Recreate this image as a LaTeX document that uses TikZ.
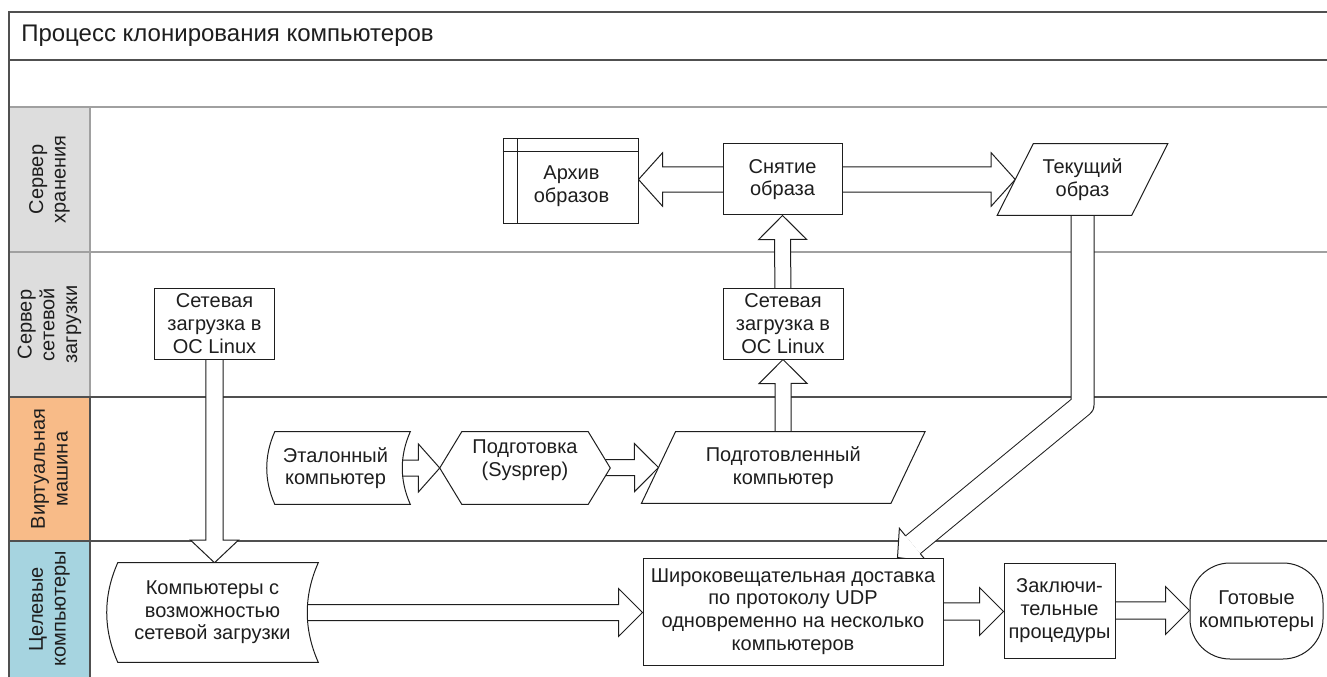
\documentclass[tikz,border=0pt]{standalone}
\usepackage{fontspec}
\setmainfont{Liberation Sans}
\usetikzlibrary{calc}
\pgfdeclarelayer{bg}
\pgfsetlayers{bg,main}
\definecolor{lanegray}{HTML}{DDDDDD}
\definecolor{laneorange}{HTML}{F8BB88}
\definecolor{laneblue}{HTML}{A6D4E0}
\definecolor{darkline}{HTML}{505050}
\definecolor{paleline}{HTML}{A0A0A0}
\definecolor{ink}{HTML}{1E1E1E}
\newcommand\px[1]{#1*0.75pt}
\tikzset{
  every node/.style={font=\fontsize{15}{17}\selectfont, text=ink},
  shapeline/.style={draw=ink, line width=0.75pt, fill=white},
  boxnode/.style={shapeline, inner sep=0pt, align=center},
  holder/.style={inner sep=0pt, align=center},
  arrowbody/.style={draw=ink, line width=0.75pt, fill=white, line join=miter},
  frameline/.style={draw=darkline, line width=1.1pt},
  paleframe/.style={draw=paleline, line width=1.1pt},
  headtext/.style={rotate=90, align=center, inner sep=0pt},
}
% block arrow: from #1 to tip #2, shaft half width #3, head half width #4, head length #5
\newcommand\blockarrow[5]{%
  \coordinate (bah) at ($(#2)!#5!(#1)$);
  \filldraw[arrowbody] ($(#1)!#3!90:(#2)$) -- ($(bah)!#3!-90:(#1)$) -- ($(bah)!#4!-90:(#1)$) -- (#2)
    -- ($(bah)!#4!90:(#1)$) -- ($(bah)!#3!90:(#1)$) -- ($(#1)!#3!-90:(#2)$);
}
% stored data outline on node #1, bulge #2 (px)
\newcommand\storedshape[2]{%
  \pgfmathsetmacro\sdk{4*#2/3}
  \filldraw[shapeline] ($(#1.north west)+(#2,0)$) -- (#1.north east)
    .. controls ($(#1.north east)!0.333!(#1.south east)+(-\sdk,0)$) and ($(#1.north east)!0.667!(#1.south east)+(-\sdk,0)$) .. (#1.south east)
    -- ($(#1.south west)+(#2,0)$)
    .. controls ($(#1.south west)!0.333!(#1.north west)+(#2-\sdk,0)$) and ($(#1.south west)!0.667!(#1.north west)+(#2-\sdk,0)$) .. cycle;
}
% parallelogram outline on node #1, half slant #2 (px)
\newcommand\paraoutline[2]{%
  \filldraw[shapeline] ($(#1.north west)+(#2,0)$) -- ($(#1.north east)+(#2,0)$) -- ($(#1.south east)+(-#2,0)$) -- ($(#1.south west)+(-#2,0)$) -- cycle;
}
\begin{document}
\begin{tikzpicture}[x=0.75pt,y=-0.75pt]
\useasboundingbox (0,0) rectangle (1327,677);

% ---------- nodes ----------
\node[anchor=west, inner sep=0pt, font=\fontsize{18}{21}\selectfont] (title) at (21,36) {Процесс клонирования компьютеров};

\node[headtext] (h1) at (49.5,179.5) {Сервер\\хранения};
\node[headtext] (h2) at (49.5,324.5) {Сервер\\сетевой\\загрузки};
\node[headtext] (h3) at (49.5,469) {Виртуальная\\машина};
\node[headtext] (h4) at (49.5,609) {Целевые\\компьютеры};

\node[boxnode, minimum width=\px{135}, minimum height=\px{85}] (arch) at (570.5,181.5) {};
\draw[draw=ink, line width=0.75pt] ($(arch.north west)+(15,0)$) -- ($(arch.south west)+(15,0)$);
\draw[draw=ink, line width=0.75pt] ($(arch.north west)+(0,13)$) -- ($(arch.north east)+(0,13)$);
\node[holder] (archt) at ($(arch.center)+(1,5)$) {Архив\\образов};

\node[boxnode, minimum width=\px{119}, minimum height=\px{71}] (snyat) at (782.5,179.5) {Снятие\\образа};

\node[holder, minimum width=\px{134}, minimum height=\px{71}] (tek) at (1082.5,179.5) {};
\paraoutline{tek}{18}
\node[holder] (tekt) at (tek.center) {Текущий\\образ};

\node[boxnode, minimum width=\px{120}, minimum height=\px{71}] (setl) at (214.5,323.5) {Сетевая\\загрузка в\\ОС Linux};
\node[boxnode, minimum width=\px{120}, minimum height=\px{71}] (setr) at (783,323.5) {Сетевая\\загрузка в\\ОС Linux};

\node[holder, minimum width=\px{143}, minimum height=\px{72}] (eth) at (338.5,468) {};
\storedshape{eth}{8}
\node[holder] (etht) at ($(eth.center)+(-3,0)$) {Эталонный\\компьютер};

\node[holder, minimum width=\px{170}, minimum height=\px{72}] (prep) at (525,468) {};
\filldraw[shapeline] (prep.west) -- ($(prep.north west)+(22,0)$) -- ($(prep.north east)+(-22,0)$) -- (prep.east)
  -- ($(prep.south east)+(-22,0)$) -- ($(prep.south west)+(22,0)$) -- cycle;
\node[holder] (prept) at ($(prep.center)+(0,-8)$) {Подготовка\\(Sysprep)};

\node[holder, minimum width=\px{249}, minimum height=\px{71}] (prepd) at (783.25,467.5) {};
\paraoutline{prepd}{17}
\node[holder] (prepdt) at (prepd.center) {Подготовленный\\компьютер};

\node[holder, minimum width=\px{211}, minimum height=\px{99}] (komp) at (212.5,612.5) {};
\storedshape{komp}{11}
\node[holder] (kompt) at (komp.center) {Компьютеры с\\возможностью\\сетевой загрузки};

\node[boxnode, minimum width=\px{300}, minimum height=\px{107}] (bcast) at (793,611.5)
  {Широковещательная доставка\\по протоколу UDP\\одновременно на несколько\\компьютеров};
\node[boxnode, minimum width=\px{111}, minimum height=\px{95}] (zakl) at (1059.5,610.5) {Заключи-\\тельные\\процедуры};
\node[boxnode, rounded corners=30pt, minimum width=\px{133}, minimum height=\px{96}] (got) at (1256.5,611) {Готовые\\компьютеры};

% ---------- background: lanes, lines, arrows ----------
\begin{pgfonlayer}{bg}
  \fill[white] (0,0) rectangle (1327,677);
  \fill[lanegray] (9,107) rectangle (90,397);
  \fill[laneorange] (9,397) rectangle (90,541);
  \fill[laneblue] (9,541) rectangle (90,677);
  \draw[paleframe] (9,107) -- (1327,107);
  \draw[paleframe] (9,252) -- (1327,252);
  \draw[paleframe] (90,107) -- (90,397);
  \draw[frameline] (90,397) -- (90,677);
  \draw[frameline] (9,397) -- (1327,397);
  \draw[frameline] (9,541) -- (1327,541);
  \draw[frameline] (9,60) -- (1327,60);
  \draw[frameline] (9,677) -- (9,12) -- (1327,12);

  \coordinate (t1) at (arch.east |- snyat.center);
  \blockarrow{snyat.center}{t1}{9.4pt}{20pt}{18pt}
  \blockarrow{snyat.center}{tek.west}{9.4pt}{20pt}{18pt}
  \blockarrow{setr.center}{snyat.south}{6pt}{18pt}{18pt}
  \blockarrow{prepd.center}{setr.south}{6pt}{18pt}{18pt}
  \blockarrow{eth.center}{prep.west}{6pt}{18pt}{16pt}
  \blockarrow{prep.center}{prepd.west}{6pt}{18pt}{18pt}
  \coordinate (t2) at (komp.north -| setl.center);
  \blockarrow{setl.center}{t2}{6.5pt}{18pt}{17pt}
  \coordinate (t3) at (bcast.west |- komp.center);
  \blockarrow{komp.center}{t3}{6pt}{18pt}{18pt}
  \coordinate (t4) at (zakl.west |- bcast.center);
  \blockarrow{bcast.center}{t4}{6.5pt}{18pt}{18pt}
  \coordinate (t5) at (got.west |- zakl.center);
  \blockarrow{zakl.center}{t5}{6.5pt}{18pt}{18pt}

  % bent arrow from current image to broadcast
  \coordinate (bendy) at (0,405);
  \coordinate (dbend) at (tek.south |- bendy);
  \coordinate (dtip) at ($(bcast.north west)+(255,0)$);
  \coordinate (dhb) at ($(dtip)!15pt!(dbend)$);
  \draw[draw=ink, line width=0.75pt, double=white, double distance=16.5pt, line join=round] (tek.center) -- (dbend) -- (dhb);
  \filldraw[arrowbody] ($(dhb)!8.6pt!90:(dbend)$) -- ($(dhb)!16pt!90:(dbend)$) -- (dtip)
    -- ($(dhb)!16pt!-90:(dbend)$) -- ($(dhb)!8.6pt!-90:(dbend)$);
\end{pgfonlayer}
\end{tikzpicture}
\end{document}
